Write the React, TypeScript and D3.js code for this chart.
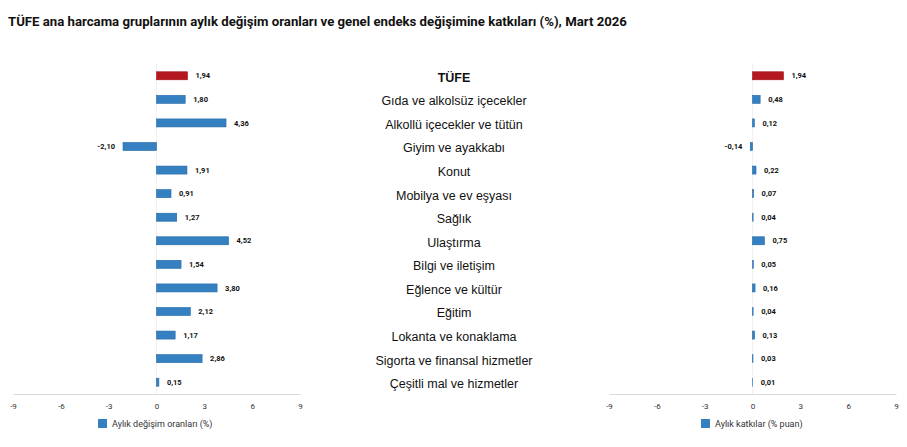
import React, { useRef, useEffect } from 'react';
import * as d3 from 'd3';

// kategoriler (ortadaki etiketler)
const categories = [
  'TÜFE',
  'Gıda ve alkolsüz içecekler',
  'Alkollü içecekler ve tütün',
  'Giyim ve ayakkabı',
  'Konut',
  'Mobilya ve ev eşyası',
  'Sağlık',
  'Ulaştırma',
  'Bilgi ve iletişim',
  'Eğlence ve kültür',
  'Eğitim',
  'Lokanta ve konaklama',
  'Sigorta ve finansal hizmetler',
  'Çeşitli mal ve hizmetler',
];

// aylık değişim oranları (%)
const monthlyChange = [1.94, 1.8, 4.36, -2.1, 1.91, 0.91, 1.27, 4.52, 1.54, 3.8, 2.12, 1.17, 2.86, 0.15];
// aylık katkılar (% puan)
const contributions = [1.94, 0.48, 0.12, -0.14, 0.22, 0.07, 0.04, 0.75, 0.05, 0.16, 0.04, 0.13, 0.03, 0.01];

const tickValues = [-9, -6, -3, 0, 3, 6, 9];
const leftLegend = 'Aylık değişim oranları (%)';
const rightLegend = 'Aylık katkılar (% puan)';
const title = 'TÜFE ana harcama gruplarının aylık değişim oranları ve genel endeks değişimine katkıları (%), Mart 2026';

const W = 907;
const H = 447;
const BLUE = '#3480c0';
const BLUE_STROKE = '#2468a8';
const RED = '#b3191e';
const FONT = 'Roboto, "Noto Sans", sans-serif';
const CAT_FONT = '"Liberation Sans", Arial, sans-serif';

// virgüllü sayı, düz tire ile
const fmt = (d: number) => d.toFixed(2).replace('.', ',');

const App: React.FC = () => {
  const svgRef = useRef<SVGSVGElement | null>(null);

  useEffect(() => {
    if (!svgRef.current) return;
    const svg = d3.select(svgRef.current);
    svg.selectAll('*').remove();

    svg.append('rect').attr('width', W).attr('height', H).attr('fill', '#fff');

    svg.append('text')
      .attr('x', 8)
      .attr('y', 26)
      .attr('font-family', FONT)
      .attr('font-size', 13.2)
      .attr('font-weight', 700)
      .attr('fill', '#111')
      .text(title);

    const y = d3.scaleBand<string>()
      .domain(categories)
      .range([64, 394])
      .paddingInner(0.66)
      .paddingOuter(0.33);

    const axisY = 394;

    const drawPanel = (values: number[], x0: number, x1: number, legend: string, legendX: number) => {
      const x = d3.scaleLinear().domain([-9, 9]).range([x0, x1]);
      const g = svg.append('g');

      // sıfır çizgisi
      g.append('line')
        .attr('x1', x(0)).attr('x2', x(0))
        .attr('y1', 63).attr('y2', axisY)
        .attr('stroke', '#f0f0f0')
        .attr('stroke-width', 1);

      // x ekseni
      const ax = g.append('g')
        .attr('transform', `translate(0,${axisY})`)
        .call(d3.axisBottom(x).tickValues(tickValues).tickSize(0).tickPadding(9).tickFormat(d => String(d)));
      ax.select('.domain').attr('stroke', '#d9d9d9');
      ax.selectAll('text')
        .attr('font-family', FONT)
        .attr('font-size', 8)
        .attr('fill', '#333');

      // çubuklar
      g.selectAll<SVGRectElement, number>('.bar')
        .data(values)
        .enter().append('rect')
        .attr('class', 'bar')
        .attr('x', d => x(Math.min(0, d)))
        .attr('y', (_, i) => y(categories[i])!)
        .attr('width', d => Math.abs(x(d) - x(0)))
        .attr('height', y.bandwidth())
        .attr('fill', (_, i) => (i === 0 ? RED : BLUE))
        .attr('stroke', (_, i) => (i === 0 ? '#a01015' : BLUE_STROKE))
        .attr('stroke-width', 0.6);

      // değer etiketleri
      g.selectAll<SVGTextElement, number>('.lbl')
        .data(values)
        .enter().append('text')
        .attr('class', 'lbl')
        .attr('x', d => (d >= 0 ? x(d) + 8 : x(d) - 8))
        .attr('y', (_, i) => y(categories[i])! + y.bandwidth() / 2)
        .attr('dy', '0.35em')
        .attr('text-anchor', d => (d >= 0 ? 'start' : 'end'))
        .attr('font-family', FONT)
        .attr('font-size', 7.5)
        .attr('font-weight', 700)
        .attr('fill', '#111')
        .text(d => fmt(d));

      // lejant
      g.append('rect')
        .attr('x', legendX)
        .attr('y', 419)
        .attr('width', 9)
        .attr('height', 9)
        .attr('fill', BLUE);
      g.append('text')
        .attr('x', legendX + 14)
        .attr('y', 424)
        .attr('dy', '0.35em')
        .attr('font-family', FONT)
        .attr('font-size', 9)
        .attr('fill', '#333')
        .text(legend);
    };

    drawPanel(monthlyChange, 13, 300, leftLegend, 98);
    drawPanel(contributions, 609, 896, rightLegend, 701);

    // ortadaki kategori etiketleri
    svg.selectAll<SVGTextElement, string>('.cat')
      .data(categories)
      .enter().append('text')
      .attr('class', 'cat')
      .attr('x', 454)
      .attr('y', d => y(d)! + y.bandwidth() / 2 + 1.5)
      .attr('dy', '0.35em')
      .attr('text-anchor', 'middle')
      .attr('font-family', CAT_FONT)
      .attr('font-size', 12.5)
      .attr('font-weight', (_, i) => (i === 0 ? 700 : 400))
      .attr('fill', '#111')
      .text(d => d);
  }, []);

  return (
    <div style={{ position: 'absolute', left: 0, top: 0 }}>
      <svg ref={svgRef} width={W} height={H} style={{ display: 'block' }}></svg>
    </div>
  );
};

export default App;
